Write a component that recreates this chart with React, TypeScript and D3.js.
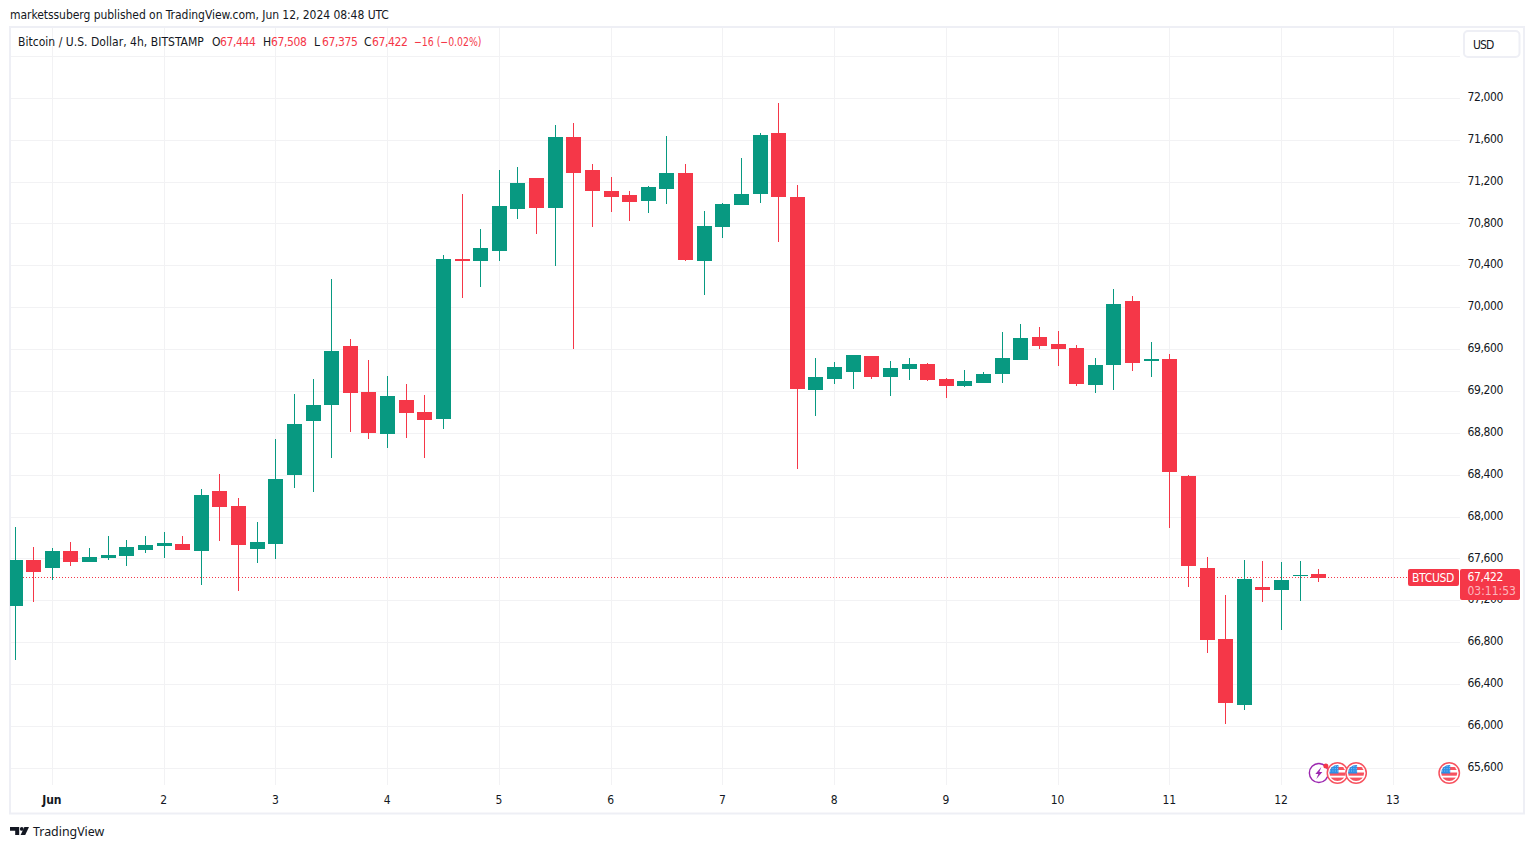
import React from "react";
import * as d3 from "d3";

const opens = [67151,67590,67513,67676,67571,67609,67628,67685,67724,67743,67676,68249,68106,67695,67743,68402,68917,69070,69634,69194,68793,69118,69003,68937,70465,70446,70542,70943,71239,70953,71631,71316,71115,71077,71019,71134,71287,70446,70771,70981,71086,71668,71058,69214,69319,69385,69538,69338,69414,69462,69319,69252,69280,69366,69500,69720,69653,69615,69261,69452,70063,69491,69510,68392,67513,66836,66204,67332,67303,67437,67453];
const highs = [67905,67714,67705,67762,67705,67819,67781,67819,67857,67819,68268,68411,68182,67953,68746,69175,69319,70274,69701,69500,69347,69271,69166,70503,71086,70752,71316,71344,71239,71745,71764,71373,71249,71115,71163,71640,71373,70924,71000,71430,71668,71955,71172,69519,69481,69548,69538,69490,69519,69472,69328,69405,69385,69767,69844,69815,69777,69643,69519,70178,70111,69672,69557,68402,67619,67256,67590,67580,67571,67580,67508];
const lows = [66635,67189,67399,67533,67571,67590,67533,67657,67609,67685,67351,67771,67294,67561,67599,68278,68239,68564,68812,68745,68660,68755,68564,68841,70092,70197,70446,70847,70704,70399,69605,70771,70914,70828,70905,70991,70446,70121,70666,70981,71000,70628,68459,68965,69271,69223,69319,69156,69309,69300,69137,69242,69280,69280,69500,69605,69443,69252,69185,69214,69395,69338,67898,67332,66702,66023,66156,67189,66921,67198,67375];
const closes = [67590,67475,67676,67571,67619,67638,67714,67733,67752,67685,68211,68096,67733,67762,68364,68889,69070,69586,69185,68803,69156,68994,68927,70465,70446,70571,70972,71191,70953,71631,71287,71115,71058,71010,71153,71287,70456,70781,70991,71086,71649,71058,69223,69338,69433,69548,69338,69424,69462,69309,69252,69300,69366,69519,69710,69634,69605,69271,69452,70035,69472,69510,68430,67533,66826,66223,67408,67303,67399,67447,67422];
const priceTicks = [65600,66000,66400,66800,67200,67600,68000,68400,68800,69200,69600,70000,70400,70800,71200,71600,72000];
const hiddenPriceTick = 72400;
const dayLabels = ["Jun","2","3","4","5","6","7","8","9","10","11","12","13"];
const dayBarIndex = [2,8,14,20,26,32,38,44,50,56,62,68,74];
const lastClose = 67422;
const legendName = "Bitcoin / U.S. Dollar, 4h, BITSTAMP";
const legendOHLC = [["O","67,444",212],["H","67,508",263],["L","67,375",314],["C","67,422",364]] as const;
const earningsBar = 70;
const usEventBars = [71, 72, 77];

const FONT = "'DejaVu Sans Condensed', 'DejaVu Sans', sans-serif";
const GREEN = "#089981";
const RED = "#F53748";
const GRID = "#F2F2F4";
const FRAME = "#EEEFF5";
const TEXT = "#131722";
const NUM_SPACING = -0.38;

const y = d3.scaleLinear().domain([65600, 72000]).range([768.3, 98.3]);
const x = d3.scaleLinear().domain([0, 68]).range([15.1, 1281.6]);
const fmt = d3.format(",");

function Flag({ cx, cy }: { cx: number; cy: number }) {
  const id = `clip-${Math.round(cx)}`;
  const dots: [number, number][] = [];
  for (let a = 0; a < 4; a++) for (let b = 0; b < 3; b++) dots.push([cx - 7.2 + a * 2.3, cy - 7 + b * 2.3]);
  return (
    <g>
      <clipPath id={id}><circle cx={cx} cy={cy} r={8} /></clipPath>
      <circle cx={cx} cy={cy} r={10.2} fill="#fff" stroke="#F7525F" strokeWidth={1.5} />
      <g clipPath={`url(#${id})`}>
        <rect x={cx - 9} y={cy - 9} width={18} height={18} fill="#fff" />
        <rect x={cx - 9} y={cy - 6} width={18} height={3} fill="#F7525F" />
        <rect x={cx - 9} y={cy - 0.5} width={18} height={3.2} fill="#F7525F" />
        <rect x={cx - 9} y={cy + 4.6} width={18} height={3.4} fill="#F7525F" />
        <rect x={cx - 9} y={cy - 9} width={10} height={9.5} fill="#2E8FE6" />
        {dots.map(([dx, dy], n) => <rect key={n} x={dx} y={dy} width={0.8} height={0.8} fill="#BBDCF8" />)}
      </g>
    </g>
  );
}

export default function App() {
  const eventY = 773;
  return (
    <svg width={1534} height={849} style={{ position: "fixed", left: 0, top: 0, background: "#fff" }} fontFamily={FONT} fontSize={12}>
      <defs>
        <clipPath id="pane"><rect x={10} y={28} width={1451} height={757} /></clipPath>
      </defs>
      <text x={10} y={19} fill={TEXT} letterSpacing={-0.05}>marketssuberg published on TradingView.com, Jun 12, 2024 08:48 UTC</text>

      <rect x={10} y={27} width={1514} height={786.5} fill="#fff" stroke={FRAME} strokeWidth={2} />

      <g stroke={GRID} strokeWidth={1}>
        {[...priceTicks, hiddenPriceTick].map((p) => (
          <line key={p} x1={11} x2={1460} y1={Math.floor(y(p)) + 0.5} y2={Math.floor(y(p)) + 0.5} />
        ))}
        {dayBarIndex.map((i) => (
          <line key={i} x1={Math.floor(x(i)) + 0.5} x2={Math.floor(x(i)) + 0.5} y1={28} y2={785} />
        ))}
      </g>

      <line x1={11} x2={1407} y1={577.5} y2={577.5} stroke={RED} strokeDasharray="1 2" />

      <g clipPath="url(#pane)" shapeRendering="crispEdges">
        {opens.map((o, i) => {
          const c = closes[i];
          const col = c >= o ? GREEN : RED;
          const px = Math.floor(x(i));
          const top = Math.round(y(Math.max(o, c)));
          const bot = Math.round(y(Math.min(o, c)));
          return (
            <g key={i} fill={col}>
              <rect x={px} y={Math.round(y(highs[i]))} width={1} height={Math.max(1, Math.round(y(lows[i])) - Math.round(y(highs[i])))} />
              <rect x={px - 7} y={top} width={15} height={Math.max(1, bot - top)} />
            </g>
          );
        })}
      </g>

      <g fill={TEXT}>
        {priceTicks.map((p) => (
          <text key={p} x={1467.5} y={y(p) + 2.6} letterSpacing={NUM_SPACING}>{fmt(p)}</text>
        ))}
        {dayLabels.map((d, k) => (
          <text key={d} x={x(dayBarIndex[k]) - 0.5} y={803.5} textAnchor="middle" fontWeight={d === "Jun" ? 700 : 400}>{d}</text>
        ))}
      </g>

      <text x={18} y={45.5} fill={TEXT} letterSpacing={0.03}>{legendName}</text>
      {legendOHLC.map(([k, v, lx]) => (
        <g key={k}>
          <text x={lx} y={45.5} fill={TEXT}>{k}</text>
          <text x={lx + 8} y={45.5} fill={RED} letterSpacing={NUM_SPACING}>{v}</text>
        </g>
      ))}
      <text x={414} y={45.5} fill={RED} textLength={67.5} lengthAdjust="spacingAndGlyphs">−16 (−0.02%)</text>

      <rect x={1464} y={31} width={55.5} height={26} rx={4} fill="#fff" stroke={FRAME} strokeWidth={2} />
      <text x={1473} y={48.5} fill={TEXT} letterSpacing={-0.9}>USD</text>

      <rect x={1408} y={569} width={51} height={17} rx={2} fill={RED} />
      <text x={1412} y={581.5} fill="#fff" letterSpacing={-0.3}>BTCUSD</text>
      <rect x={1460} y={569} width={60} height={31} rx={2} fill={RED} />
      <text x={1467.5} y={581} fill="#fff" letterSpacing={NUM_SPACING}>{fmt(lastClose)}</text>
      <text x={1467.5} y={595} fill="#fff" fillOpacity={0.65}>03:11:53</text>

      <g>
        <circle cx={x(earningsBar)} cy={eventY} r={9.5} fill="#fff" stroke="#9C27B0" strokeWidth={1.4} />
        <path d={`M${x(earningsBar) + 2.5} ${eventY - 6} L${x(earningsBar) - 3.5} ${eventY + 1} H${x(earningsBar) - 0.5} L${x(earningsBar) - 2.5} ${eventY + 6} L${x(earningsBar) + 3.5} ${eventY - 1} H${x(earningsBar) + 0.5} Z`} fill="#9C27B0" />
        <circle cx={x(earningsBar) + 7} cy={eventY - 7} r={2.5} fill={RED} />
        {usEventBars.map((b) => <Flag key={b} cx={x(b)} cy={eventY} />)}
      </g>

      <g fill="#131722">
        <path d="M10 827h9.2v8h-4v-4.2H10z" />
        <circle cx={21.8} cy={828.9} r={1.9} />
        <path d="M24.4 827h4.6l-3.8 8h-4.6z" />
      </g>
      <text x={33} y={836} fill="#131722" fontSize={12.4} fontFamily="'Noto Sans', sans-serif" fontWeight={400}>TradingView</text>
    </svg>
  );
}
